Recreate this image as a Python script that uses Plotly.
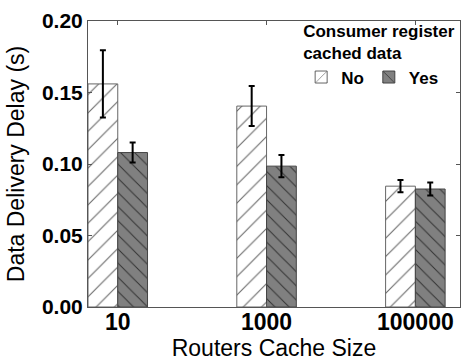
import plotly.graph_objects as go

categories = ["10", "1000", "100000"]
no_values = [0.156, 0.1405, 0.0845]
no_errors = [0.0235, 0.014, 0.0043]
yes_values = [0.108, 0.0985, 0.0825]
yes_errors = [0.007, 0.0078, 0.0045]
y_ticks = [0.0, 0.05, 0.10, 0.15, 0.20]
y_tick_text = ["0.00", "0.05", "0.10", "0.15", "0.20"]

FONT = "Liberation Sans, Arial, sans-serif"
AX = "#555555"

fig = go.Figure()
fig.add_trace(go.Bar(
    name="No", x=categories, y=no_values,
    error_y=dict(type="data", array=no_errors, color="black", thickness=2, width=3),
    marker=dict(color="white", line=dict(color="#666666", width=1),
                pattern=dict(shape="/", size=13, solidity=0.08,
                             fgcolor="#666666", bgcolor="white", fillmode="replace")),
))
fig.add_trace(go.Bar(
    name="Yes", x=categories, y=yes_values,
    error_y=dict(type="data", array=yes_errors, color="black", thickness=2, width=3),
    marker=dict(color="#808080", line=dict(color="#444444", width=1),
                pattern=dict(shape="\\", size=10, solidity=0.1,
                             fgcolor="#333333", bgcolor="#808080", fillmode="replace")),
))

fig.update_layout(
    width=462, height=361,
    margin=dict(l=88, r=2, t=21, b=54, autoexpand=False),
    paper_bgcolor="white", plot_bgcolor="white",
    barmode="group", bargap=0.6, bargroupgap=0,
    font=dict(family=FONT, color="black"),
    showlegend=True,
    legend=dict(
        orientation="h", x=0.573, xanchor="left", y=1.02, yanchor="top",
        bgcolor="rgba(0,0,0,0)",
        font=dict(size=17, family=FONT, color="black", weight="bold"),
        title=dict(text="Consumer register<br>cached data", side="top",
                   font=dict(size=17, family=FONT, color="black", weight="bold")),
        itemwidth=30, tracegroupgap=0,
    ),
)
fig.update_xaxes(
    range=[-0.2, 2.3], tickangle=0, automargin=False,
    showline=True, linecolor=AX, linewidth=1, mirror="ticks",
    ticks="inside", ticklen=4, tickcolor=AX,
    tickfont=dict(size=23, family=FONT, weight="bold"),
    ticklabelstandoff=-6,
    title=dict(text="Routers Cache Size", font=dict(size=23, family=FONT), standoff=2),
    showgrid=False, zeroline=False,
)
fig.update_yaxes(
    range=[0, 0.20], automargin=False,
    tickvals=y_ticks, ticktext=y_tick_text,
    showline=True, linecolor=AX, linewidth=1, mirror="ticks",
    ticks="inside", ticklen=4, tickcolor=AX,
    tickfont=dict(size=21, family=FONT, weight="bold"),
    title=dict(text="Data Delivery Delay (s)", font=dict(size=23, family=FONT), standoff=10),
    showgrid=False, zeroline=False,
)

fig.write_html("out.html")
